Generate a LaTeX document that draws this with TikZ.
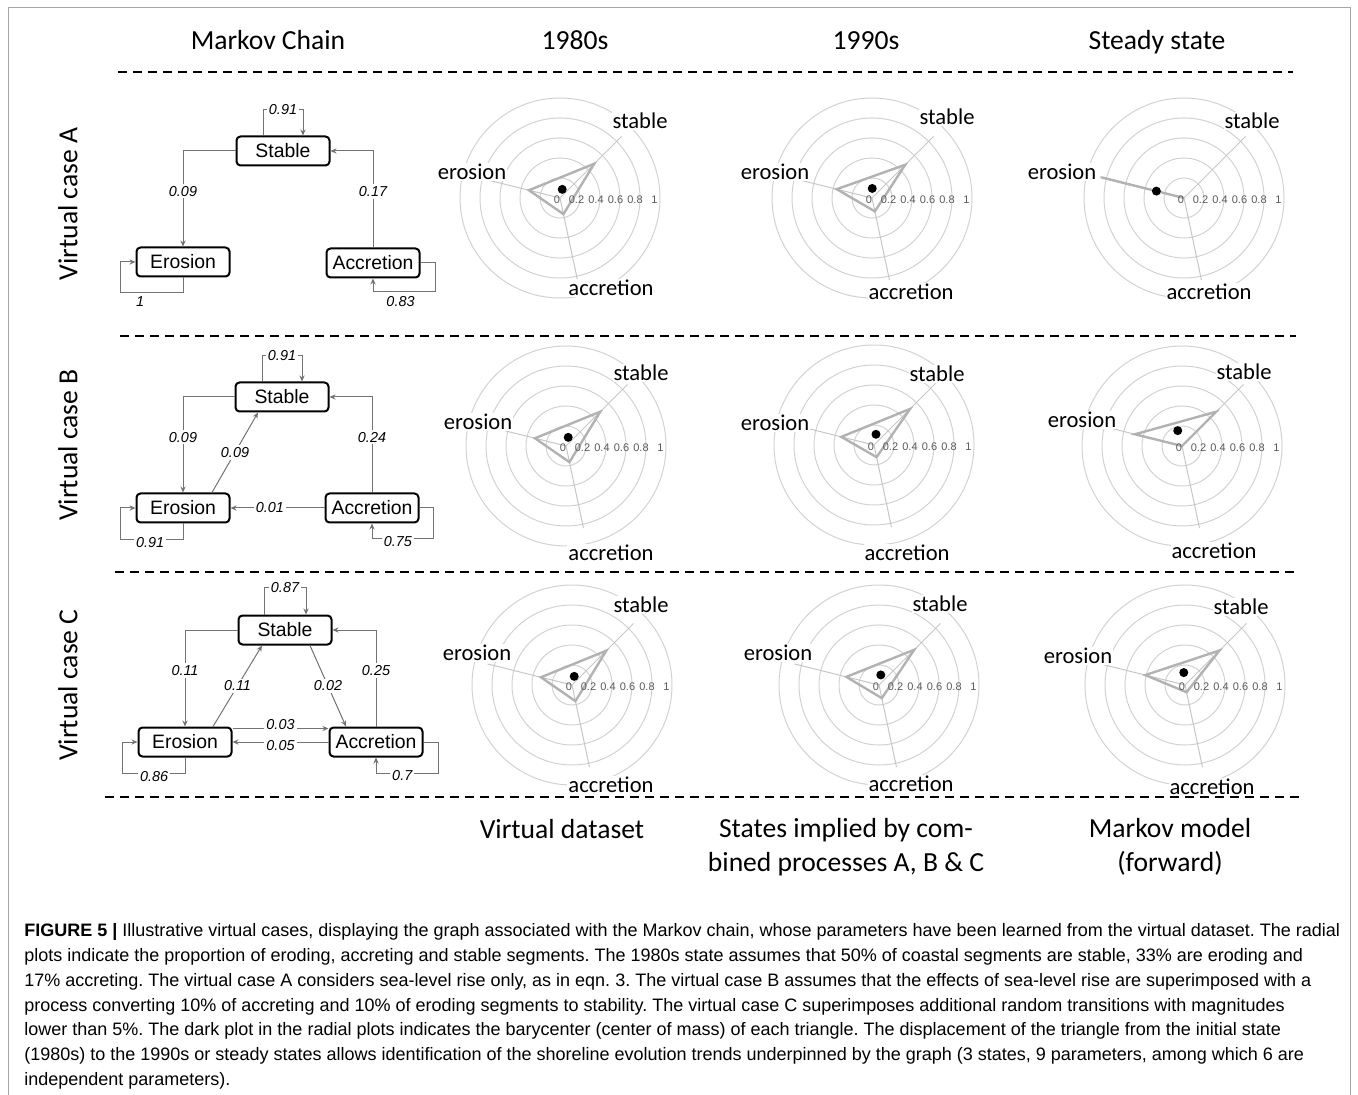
\documentclass[tikz,border=0pt]{standalone}
\usepackage{fontspec}
\setmainfont{Carlito}
\newfontfamily\arialfont{Liberation Sans}
\usetikzlibrary{positioning,arrows.meta}
\frenchspacing
\tikzset{%
statebox/.style={draw,line width=1pt,rounded corners=2pt,minimum width=46.5pt,minimum height=14.5pt,inner sep=1pt,font=\arialfont\fontsize{9.7}{11}\selectfont},
trans/.style={draw=gray!90!black,line width=0.5pt,-{Stealth[length=3pt,width=2.6pt]}},
prob/.style={fill=white,inner sep=1pt,font=\arialfont\itshape\fontsize{7.2}{8}\selectfont},
ring/.style={draw=gray!35,line width=0.5pt},
spoke/.style={draw=gray!45,line width=0.5pt},
tri/.style={draw=gray!60,line width=1.2pt},
ticklab/.style={font=\arialfont\fontsize{5.5}{6}\selectfont,text=gray!70!black,inner sep=0.5pt},
axlab/.style={font=\fontsize{11.3}{13}\selectfont,fill=white,inner sep=0.5pt},
head/.style={font=\fontsize{13.8}{17}\selectfont,align=center},
rowsep/.style={line width=1pt,dash pattern=on 4.5pt off 3pt},
frame/.style={draw=gray!70,line width=0.5pt},
capline/.style={anchor=base west,inner sep=0,font=\arialfont\fontsize{9.0}{10}\selectfont}
}

% #1 name, #2 centre, #3 stable, #4 erosion, #5 accretion
\newcommand{\radplot}[5]{%
  \coordinate (#1) at #2;
  \foreach \r in {20,40,60,80,100}
    \draw[ring] (#1) circle[radius=\r];
  \draw[spoke] (#1) -- ++(-45:87);
  \draw[spoke] (#1) -- ++(-166:87);
  \draw[spoke] (#1) -- ++(78:84);
  \path (#1) ++(-45:{97*#3}) coordinate (#1-s)
        (#1) ++(-166:{97*#4}) coordinate (#1-e)
        (#1) ++(78:{97*#5}) coordinate (#1-a);
  \draw[tri] (#1-s) -- (#1-e) -- (#1-a) -- cycle;
  \fill (barycentric cs:#1-s=1,#1-e=1,#1-a=1) circle[radius=4.5];
  \foreach \v/\t in {0/0,1/0.2,2/0.4,3/0.6,4/0.8,5/1}
    \node[ticklab] (#1-t\v) at ([shift={(-3+19.5*\v,2)}]#1) {\t};
}
\newcommand{\radlabels}[4]{%
  \node[axlab] (#1-stl) at #2 {stable};
  \node[axlab] (#1-erl) at #3 {erosion};
  \node[axlab] (#1-acl) at #4 {accretion};
}

\begin{document}
\begin{tikzpicture}[x=0.5pt,y=-0.5pt]
  \useasboundingbox (0,0) rectangle (1358,1095);
  \draw[frame] (8,1095) -- (8,8) -- (1350,8) -- (1350,1095);

  \node[head,anchor=base] (hmc) at (268,50) {Markov Chain};
  \node[head,anchor=base] (h80) at (575,50) {1980s};
  \node[head,anchor=base] (h90) at (866,50) {1990s};
  \node[head,anchor=base] (hss) at (1157,50) {Steady state};

  \draw[rowsep] (118,72) -- (1293,72);
  \draw[rowsep] (120,336) -- (1296,336);
  \draw[rowsep] (115,572) -- (1300,572);
  \draw[rowsep] (105,797) -- (1300,797);

  \node[head,rotate=90] (rA) at (68,204) {Virtual case A};
  \node[head,rotate=90] (rB) at (68,445) {Virtual case B};
  \node[head,rotate=90] (rC) at (68,685) {Virtual case C};

  % case A
  \node[statebox] (sA) at (283,151) {Stable};
  \node[statebox] (eA) at (183,262) {Erosion};
  \node[statebox] (aA) at (373,263) {Accretion};
  \draw[trans] ([xshift=-10pt]sA.north) -- ++(0,-26) -- node[prob]{0.91} ++(40,0) -- ([xshift=10pt]sA.north);
  \draw[trans] (sA.west) -| node[prob,pos=0.71]{0.09} (eA.north);
  \draw[trans] (aA.north) |- node[prob,pos=0.29]{0.17} (sA.east);
  \draw[trans] (eA.south) -- ++(0,15) -- node[prob,below=1pt,pos=0.68]{1} ++(-63,0) |- (eA.west);
  \draw[trans] (aA.east) -- ++(15,0) -- ++(0,29) -| node[prob,below=1pt,pos=0.28]{0.83} (aA.south);

  % case B
  \node[statebox] (sB) at (282,397) {Stable};
  \node[statebox] (eB) at (183,508) {Erosion};
  \node[statebox] (aB) at (372,508) {Accretion};
  \draw[trans] ([xshift=-10pt]sB.north) -- ++(0,-26) -- node[prob]{0.91} ++(40,0) -- ([xshift=10pt]sB.north);
  \draw[trans] (sB.west) -| node[prob,pos=0.71]{0.09} (eB.north);
  \draw[trans] ([xshift=14.5pt]eB.north) -- node[prob]{0.09} ([xshift=-12pt]sB.south);
  \draw[trans] (aB.north) |- node[prob,pos=0.29]{0.24} (sB.east);
  \draw[trans] (aB.west) -- node[prob,pos=0.58]{0.01} (eB.east);
  \draw[trans] (eB.south) -- ++(0,16) -- node[prob,yshift=-1.5pt,pos=0.52]{0.91} ++(-63,0) |- (eB.west);
  \draw[trans] (aB.east) -- ++(14,0) -- ++(0,31) -| node[prob,yshift=-1.5pt,pos=0.29]{0.75} (aB.south);

  % case C
  \node[statebox] (sC) at (285,630) {Stable};
  \node[statebox] (eC) at (185,742) {Erosion};
  \node[statebox] (aC) at (376,742) {Accretion};
  \draw[trans] ([xshift=-10.5pt]sC.north) -- ++(0,-27) -- node[prob]{0.87} ++(42,0) -- ([xshift=10.5pt]sC.north);
  \draw[trans] (sC.west) -| node[prob,pos=0.71]{0.11} (eC.north);
  \draw[trans] ([xshift=14pt]eC.north) -- node[prob]{0.11} ([xshift=-11.5pt]sC.south);
  \draw[trans] ([xshift=12.5pt]sC.south) -- node[prob]{0.02} ([xshift=-15pt]aC.north);
  \draw[trans] (aC.north) |- node[prob,pos=0.29]{0.25} (sC.east);
  \draw[trans] ([yshift=-1pt]eC.north east) -- node[prob,yshift=2pt]{0.03} ([yshift=-1pt]aC.north west);
  \draw[trans] (aC.west) -- node[prob,yshift=-2pt]{0.05} (eC.east);
  \draw[trans] (eC.south) -- ++(0,16) -- node[prob,yshift=-1.5pt,pos=0.49]{0.86} ++(-63,0) |- (eC.west);
  \draw[trans] (aC.east) -- ++(15,0) -- ++(0,31) -| node[prob,yshift=-1.5pt,pos=0.29]{0.7} (aC.south);

  % radial plots
  \radplot{A1}{(560,198)}{.50}{.33}{.17}
  \radplot{A2}{(872,198)}{.484}{.375}{.141}
  \radplot{A3}{(1184,198)}{0}{.88}{0}
  \radplot{B1}{(566,446)}{.50}{.33}{.17}
  \radplot{B2}{(874,445)}{.526}{.347}{.128}
  \radplot{B3}{(1182,446)}{.50}{.50}{0}
  \radplot{C1}{(572,685)}{.50}{.33}{.17}
  \radplot{C2}{(879,685)}{.514}{.347}{.139}
  \radplot{C3}{(1185,685)}{.503}{.422}{.076}

  \radlabels{A1}{(640,121)}{(472,172)}{(611,288)}
  \radlabels{A2}{(947,117)}{(775,172)}{(911,292)}
  \radlabels{A3}{(1252,121)}{(1062,172)}{(1209,292)}
  \radlabels{B1}{(641,373)}{(478,422)}{(611,553)}
  \radlabels{B2}{(937,374)}{(775,423)}{(907,553)}
  \radlabels{B3}{(1244,372)}{(1082,420)}{(1214,551)}
  \radlabels{C1}{(641,605)}{(477,653)}{(611,785)}
  \radlabels{C2}{(940,604)}{(778,653)}{(911,784)}
  \radlabels{C3}{(1241,607)}{(1078,656)}{(1212,787)}

  \node[head] (f1) at (562,829) {Virtual dataset};
  \node[head] (f2) at (846,847) {States implied by com-\\bined processes A, B \& C};
  \node[head] (f3) at (1170,847) {Markov model\\(forward)};

  \node[capline] (c1) at (24,936) {{\bfseries FIGURE 5 |} Illustrative virtual cases, displaying the graph associated with the Markov chain, whose parameters have been learned from the virtual dataset. The radial};
  \node[capline] (c2) at (24,961) {plots indicate the proportion of eroding, accreting and stable segments. The 1980s state assumes that 50\% of coastal segments are stable, 33\% are eroding and};
  \node[capline] (c3) at (24,986) {17\% accreting. The virtual case A considers sea-level rise only, as in eqn. 3. The virtual case B assumes that the effects of sea-level rise are superimposed with a};
  \node[capline] (c4) at (24,1011) {process converting 10\% of accreting and 10\% of eroding segments to stability. The virtual case C superimposes additional random transitions with magnitudes};
  \node[capline] (c5) at (24,1035) {lower than 5\%. The dark plot in the radial plots indicates the barycenter (center of mass) of each triangle. The displacement of the triangle from the initial state};
  \node[capline] (c6) at (24,1060) {(1980s) to the 1990s or steady states allows identification of the shoreline evolution trends underpinned by the graph (3 states, 9 parameters, among which 6 are};
  \node[capline] (c7) at (24,1085) {independent parameters).};
\end{tikzpicture}
\end{document}
